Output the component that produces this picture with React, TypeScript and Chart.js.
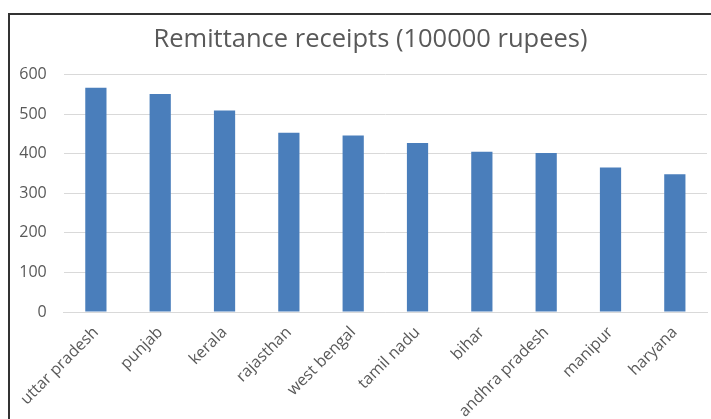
import React, { useEffect, useRef } from "react";
import { Chart, registerables } from "chart.js";

Chart.register(...registerables);

const categories = [
  "uttar pradesh",
  "punjab",
  "kerala",
  "rajasthan",
  "west bengal",
  "tamil nadu",
  "bihar",
  "andhra pradesh",
  "manipur",
  "haryana",
];
const receipts = [567, 551, 509, 453, 446, 427, 405, 402, 365, 348];
const yTicks = [0, 100, 200, 300, 400, 500, 600];
const titleText = "Remittance receipts (100000 rupees)";

const FONT = "'Open Sans', sans-serif";
const TEXT = "#595959";

const shiftTitle = {
  id: "shiftTitle",
  afterLayout(chart: any) {
    if (chart.titleBlock) chart.titleBlock.left += 24;
  },
};

export default function App() {
  const ref = useRef<HTMLCanvasElement | null>(null);

  useEffect(() => {
    if (!ref.current) return;
    const chart = new Chart(ref.current, {
      type: "bar",
      data: {
        labels: categories,
        datasets: [
          {
            data: receipts,
            backgroundColor: "#4a7ebb",
            borderWidth: 0,
            categoryPercentage: 1,
            barPercentage: 0.33,
          },
        ],
      },
      plugins: [shiftTitle],
      options: {
        animation: false,
        responsive: false,
        layout: { padding: { left: 0, right: 4, top: 0, bottom: 0 } },
        plugins: {
          legend: { display: false },
          tooltip: { enabled: false },
          title: {
            display: true,
            text: titleText,
            color: TEXT,
            font: { family: FONT, size: 25.5, weight: "normal" },
            padding: { top: 9, bottom: 20 },
          },
        },
        scales: {
          x: {
            grid: { display: false, drawTicks: false },
            border: { display: true, color: "#d9d9d9", width: 1 },
            ticks: {
              color: TEXT,
              font: { family: FONT, size: 16 },
              minRotation: 45,
              maxRotation: 45,
              autoSkip: false,
              padding: 11,
            },
            afterFit: (s: any) => {
              s.height = 107;
            },
          },
          y: {
            min: 0,
            max: 600,
            grid: { color: "#d9d9d9", drawTicks: false },
            border: { display: false },
            afterBuildTicks: (s: any) => {
              s.ticks = yTicks.map((v) => ({ value: v }));
            },
            ticks: {
              color: TEXT,
              font: { family: FONT, size: 16 },
              padding: 17,
            },
            afterFit: (s: any) => {
              s.width = 51.75;
            },
          },
        },
      },
    });
    return () => chart.destroy();
  }, []);

  return (
    <div
      style={{
        position: "absolute",
        left: 8,
        top: 13,
        width: 703,
        height: 406,
        boxSizing: "border-box",
        borderLeft: "2px solid #333",
        borderTop: "2px solid #333",
        background: "#fff",
        overflow: "hidden",
      }}
    >
      <canvas ref={ref} width={701} height={404} style={{ display: "block" }} />
    </div>
  );
}
